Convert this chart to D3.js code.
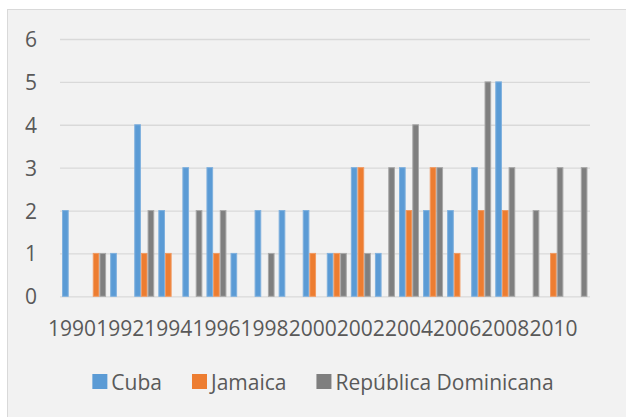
<!DOCTYPE html>
<html>
<head>
<meta charset="utf-8">
<script src="https://cdn.jsdelivr.net/npm/d3@7"></script>
<style>
  body { margin: 0; background: #fff; }
  text { font-family: "Open Sans", sans-serif; fill: #595959; }
</style>
</head>
<body>
<div id="chart"></div>
<script>
// chart data
const years = d3.range(1990, 2012);
const seriesNames = ["Cuba", "Jamaica", "República Dominicana"];
const cuba     = [2, 0, 1, 4, 2, 3, 3, 1, 2, 2, 2, 1, 3, 1, 3, 2, 2, 3, 5, 0, 0, 0];
const jamaica  = [0, 1, 0, 1, 1, 0, 1, 0, 0, 0, 1, 1, 3, 0, 2, 3, 1, 2, 2, 0, 1, 0];
const dominica = [0, 1, 0, 2, 0, 2, 2, 0, 1, 0, 0, 1, 1, 3, 4, 3, 0, 5, 3, 2, 3, 3];
const yTicks = [0, 1, 2, 3, 4, 5, 6];
const colors = ["#5b9bd5", "#ed7d31", "#7f7f7f"];
const strokes = ["#7fb0de", "#f19a62", "#a8a8a8"];

const width = 626, height = 417;
const plot = { left: 60, right: 589.5, top: 39, bottom: 296.3 };
const fontSize = "21px";

const svg = d3.select("#chart")
  .append("svg")
  .attr("width", width)
  .attr("height", height);

// chart area background
svg.append("rect")
  .attr("x", 7.5).attr("y", 9.5)
  .attr("width", width + 10).attr("height", height + 10)
  .attr("fill", "#f2f2f2")
  .attr("stroke", "#d9d9d9");

const x = d3.scaleBand()
  .domain(years)
  .range([plot.left, plot.right])
  .paddingInner(0.17)
  .paddingOuter(0.085);

const xSub = d3.scaleBand()
  .domain(seriesNames)
  .range([0, x.bandwidth()]);

const y = d3.scaleLinear()
  .domain([0, 6])
  .range([plot.bottom, plot.top]);

// gridlines + y labels
const yAxis = svg.append("g")
  .attr("transform", `translate(${plot.left},0)`)
  .call(d3.axisLeft(y)
    .tickValues(yTicks)
    .tickFormat(d3.format("d"))
    .tickSize(-(plot.right - plot.left + 0.5))
    .tickPadding(23));
yAxis.select(".domain").remove();
yAxis.selectAll(".tick line").attr("stroke", "#d9d9d9").attr("stroke-width", 1.3);
yAxis.selectAll(".tick text")
  .style("font-size", fontSize)
  .attr("dy", "0.36em");

// bars
const table = years.map((yr, i) => ({
  year: yr,
  values: [cuba[i], jamaica[i], dominica[i]]
}));

svg.append("g")
  .selectAll("g")
  .data(table)
  .join("g")
  .attr("transform", d => `translate(${x(d.year)},0)`)
  .selectAll("rect")
  .data(d => d.values.map((v, j) => ({ key: seriesNames[j], value: v, j })))
  .join("rect")
  .filter(d => d.value > 0)
  .attr("x", d => xSub(d.key) + 0.5)
  .attr("y", d => y(d.value))
  .attr("width", xSub.bandwidth() - 1)
  .attr("height", d => y(0) - y(d.value))
  .attr("fill", d => colors[d.j])
  .attr("stroke", d => strokes[d.j])
  .attr("stroke-width", 1);

// x axis labels (every other year)
const xAxis = svg.append("g")
  .attr("transform", `translate(0,${plot.bottom})`)
  .call(d3.axisBottom(x)
    .tickValues(years.filter(d => d % 2 === 0))
    .tickSize(0)
    .tickPadding(32));
xAxis.select(".domain").remove();
xAxis.selectAll(".tick text")
  .style("font-size", fontSize)
  .attr("dy", "0.36em");

// legend
const legend = svg.append("g");
const items = legend.selectAll("g")
  .data(seriesNames)
  .join("g");
items.append("rect")
  .attr("width", 15).attr("height", 15)
  .attr("y", 374)
  .attr("fill", (d, i) => colors[i]);
items.append("text")
  .attr("x", 19)
  .attr("y", 390)
  .style("font-size", fontSize)
  .text(d => d);

let cursor = 0;
const offsets = [];
items.each(function() {
  offsets.push(cursor);
  cursor += 19 + this.querySelector("text").getComputedTextLength() + 30;
});
const totalW = cursor - 30;
const startX = 323 - totalW / 2;
items.attr("transform", (d, i) => `translate(${startX + offsets[i]},0)`);
</script>
</body>
</html>
